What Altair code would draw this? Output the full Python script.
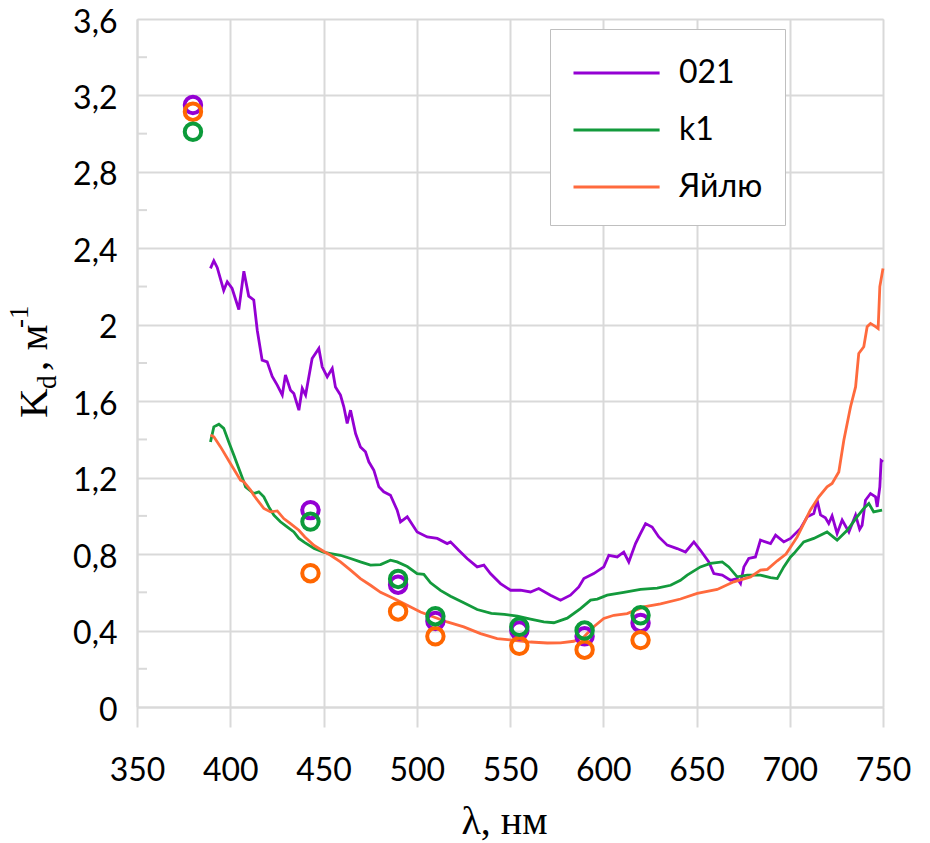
import altair as alt
import pandas as pd

# ---------------- data ----------------
SERIES = ["021", "k1", "Яйлю"]

WL_021 = [389.4, 391.2, 393.0, 396.5, 398.4, 401.0, 404.6, 407.3, 409.9, 412.6, 414.5, 417.1,
          419.8, 422.5, 425.2, 427.9, 429.6, 432.3, 434.1, 436.8, 438.6, 440.4, 443.9, 447.5,
          449.3, 452.0, 454.7, 456.4, 459.1, 460.9, 462.7, 464.5, 467.2, 469.8, 472.5, 474.3,
          477.0, 479.7, 482.3, 485.9, 489.5, 491.3, 494.9, 500.2, 505.6, 511.0, 516.3, 518.1,
          522.5, 527.0, 532.4, 536.0, 539.5, 544.9, 550.3, 555.6, 561.0, 565.4, 571.7, 577.1,
          582.4, 586.9, 589.6, 594.9, 600.3, 603.0, 607.5, 611.0, 613.7, 617.3, 620.0, 622.7,
          626.2, 629.8, 634.3, 639.6, 644.1, 648.6, 652.1, 656.6, 659.3, 663.8, 668.2, 671.8,
          673.6, 675.4, 678.0, 681.6, 684.3, 689.7, 692.4, 696.8, 700.4, 705.8, 709.4, 712.9,
          714.7, 716.5, 719.1, 720.9, 722.7, 725.4, 728.1, 731.7, 735.3, 737.5, 738.8, 740.6,
          743.3, 746.0, 746.9, 748.3, 749.0, 750.0]
KD_021 = [2.295, 2.335, 2.30, 2.18, 2.225, 2.19, 2.08, 2.28, 2.15, 2.13, 1.97, 1.815,
          1.806, 1.73, 1.684, 1.632, 1.737, 1.658, 1.64, 1.553, 1.667, 1.632, 1.824, 1.876,
          1.78, 1.728, 1.772, 1.675, 1.632, 1.571, 1.484, 1.553, 1.431, 1.361, 1.335, 1.283,
          1.239, 1.152, 1.126, 1.108, 1.03, 0.969, 0.995, 0.916, 0.89, 0.882, 0.855, 0.864,
          0.82, 0.777, 0.733, 0.742, 0.698, 0.646, 0.611, 0.611, 0.602, 0.62, 0.585, 0.559,
          0.585, 0.628, 0.672, 0.698, 0.733, 0.794, 0.785, 0.811, 0.759, 0.855, 0.908, 0.96,
          0.942, 0.89, 0.847, 0.829, 0.811, 0.864, 0.82, 0.759, 0.698, 0.69, 0.663, 0.672,
          0.646, 0.733, 0.777, 0.785, 0.873, 0.855, 0.899, 0.864, 0.882, 0.934, 0.995, 1.012,
          1.082, 1.005, 0.99, 0.96, 1.0, 0.908, 0.978, 0.916, 1.004, 0.93, 0.951, 1.082,
          1.117, 1.10, 1.047, 1.152, 1.29, 1.283]

WL_K1 = [389.4, 391.2, 393.9, 396.5, 399.2, 401.9, 404.6, 407.3, 408.2, 412.6, 415.3, 418.0,
         420.7, 423.4, 426.9, 430.5, 434.1, 436.8, 440.0, 445.0, 450.0, 453.8, 459.1, 464.5,
         469.8, 475.2, 480.6, 485.9, 489.5, 494.9, 500.2, 503.8, 507.4, 512.7, 518.1, 525.2,
         532.4, 540.0, 547.0, 554.0, 561.0, 568.1, 573.5, 580.7, 587.8, 593.2, 596.8, 602.1,
         611.0, 620.0, 628.9, 636.1, 641.4, 645.0, 652.1, 657.5, 663.8, 667.3, 671.8, 677.2,
         684.3, 689.7, 693.3, 696.8, 700.4, 702.2, 707.5, 712.9, 720.0, 725.4, 730.8, 736.1,
         739.7, 742.4, 745.0, 749.5]
KD_K1 = [1.387, 1.466, 1.48, 1.458, 1.387, 1.318, 1.248, 1.178, 1.152, 1.117, 1.126, 1.10,
         1.047, 1.004, 0.969, 0.942, 0.916, 0.882, 0.86, 0.83, 0.81, 0.803, 0.794, 0.777,
         0.759, 0.742, 0.745, 0.768, 0.759, 0.735, 0.698, 0.694, 0.65, 0.61, 0.58, 0.545,
         0.51, 0.49, 0.485, 0.475, 0.46, 0.445, 0.441, 0.465, 0.515, 0.559, 0.565, 0.585,
         0.60, 0.615, 0.622, 0.637, 0.663, 0.69, 0.733, 0.751, 0.759, 0.733, 0.681, 0.69,
         0.69, 0.677, 0.672, 0.733, 0.785, 0.803, 0.864, 0.882, 0.916, 0.873, 0.925, 0.995,
         1.039, 1.065, 1.021, 1.03]

WL_YAILU = [389.4, 391.2, 394.8, 400.1, 405.5, 407.3, 410.9, 412.6, 418.0, 421.6, 425.2, 428.7,
            432.3, 436.8, 440.0, 445.0, 450.0, 453.8, 459.1, 464.5, 469.8, 475.2, 480.6, 487.7,
            494.9, 502.0, 509.1, 516.3, 525.2, 534.2, 543.1, 552.0, 561.0, 570.0, 577.0, 584.2,
            589.6, 594.9, 600.3, 605.7, 612.8, 621.7, 630.7, 641.4, 650.4, 661.1, 670.0, 679.0,
            684.3, 688.0, 693.3, 698.0, 704.0, 707.5, 711.0, 715.6, 720.0, 722.7, 726.3, 729.0,
            732.6, 735.3, 737.0, 739.7, 741.5, 743.3, 746.0, 747.4, 748.3, 750.0]
KD_YAILU = [1.423, 1.414, 1.361, 1.274, 1.187, 1.178, 1.135, 1.108, 1.039, 1.021, 1.026, 0.986,
            0.96, 0.925, 0.89, 0.845, 0.815, 0.794, 0.759, 0.716, 0.672, 0.637, 0.60, 0.568,
            0.532, 0.497, 0.471, 0.445, 0.419, 0.384, 0.358, 0.349, 0.34, 0.335, 0.336, 0.344,
            0.366, 0.42, 0.463, 0.48, 0.489, 0.524, 0.54, 0.565, 0.594, 0.615, 0.655, 0.681,
            0.716, 0.72, 0.765, 0.80, 0.89, 0.96, 1.03, 1.10, 1.152, 1.17, 1.23, 1.396,
            1.571, 1.675, 1.85, 1.885, 1.99, 2.007, 1.99, 1.98, 2.2, 2.295]

# measured points (circles)
STATION_WL = [380, 443, 490, 510, 555, 590, 620]
DOT_021 = [3.15, 1.03, 0.64, 0.45, 0.40, 0.37, 0.44]
DOT_YAILU = [3.115, 0.70, 0.50, 0.37, 0.32, 0.30, 0.35]
DOT_K1 = [3.01, 0.97, 0.67, 0.475, 0.42, 0.40, 0.48]

Y_TICKS = [0, 0.4, 0.8, 1.2, 1.6, 2.0, 2.4, 2.8, 3.2, 3.6]
Y_MINOR = [0.2, 0.6, 1.0, 1.4, 1.8, 2.2, 2.6, 3.0, 3.4]
X_TICKS = [350, 400, 450, 500, 550, 600, 650, 700, 750]

LINE_COLORS = ["#9400D3", "#139A3C", "#FF6A3D"]
DOT_COLORS = ["#9400D3", "#0C9B3A", "#FF6600"]
GRID = "#D9D9D9"

# ---------------- tables ----------------
lines = pd.concat([
    pd.DataFrame({"wl": WL_021, "kd": KD_021, "series": "021"}),
    pd.DataFrame({"wl": WL_K1, "kd": KD_K1, "series": "k1"}),
    pd.DataFrame({"wl": WL_YAILU, "kd": KD_YAILU, "series": "Яйлю"}),
], ignore_index=True)

dots = pd.concat([
    pd.DataFrame({"wl": STATION_WL, "kd": DOT_021, "series": "021"}),
    pd.DataFrame({"wl": STATION_WL, "kd": DOT_YAILU, "series": "Яйлю"}),
    pd.DataFrame({"wl": STATION_WL, "kd": DOT_K1, "series": "k1"}),
], ignore_index=True)

minor = pd.DataFrame({"v": Y_MINOR})

x_scale = alt.Scale(domain=[350, 750], nice=False, zero=False)
y_scale = alt.Scale(domain=[0, 3.6], nice=False)

x_axis = alt.Axis(values=X_TICKS, title="λ, нм", grid=True, gridColor=GRID, gridWidth=2,
                  domainColor=GRID, domainWidth=2, ticks=True, tickSize=20, tickColor=GRID,
                  tickWidth=2, labelFont="Lato", labelFontSize=32, labelColor="black",
                  labelPadding=28, labelFlush=False, labelOverlap=False,
                  titleFont="Liberation Serif", titleFontSize=40,
                  titleFontWeight="normal", titleColor="black", titleX=367, titleY=126,
                  titleBaseline="alphabetic", titleAlign="center")
y_axis = alt.Axis(values=Y_TICKS, title=None, grid=True, gridColor=GRID, gridWidth=2,
                  domainColor=GRID, domainWidth=2, ticks=False, tickSize=0,
                  labelFont="Lato", labelFontSize=32, labelColor="black", labelPadding=20,
                  labelOffset=3, labelFlush=False, labelOverlap=False,
                  labelExpr="replace(format(datum.value, '~g'), '.', ',')")

line_layer = alt.Chart(lines).mark_line(strokeWidth=2.8).encode(
    x=alt.X("wl:Q", scale=x_scale, axis=x_axis),
    y=alt.Y("kd:Q", scale=y_scale, axis=y_axis),
    color=alt.Color("series:N", scale=alt.Scale(domain=SERIES, range=LINE_COLORS),
                    legend=alt.Legend(title=None, orient="none", legendX=413, legendY=10,
                                      padding=22, symbolType="M-1,0H3.2", symbolSize=1681,
                                      symbolStrokeWidth=3, labelFont="Lato", labelFontSize=32,
                                      labelColor="black", labelOffset=63, rowPadding=19,
                                      strokeColor="#BFBFBF", fillColor="white")),
    detail="series:N",
)

dot_layer = alt.Chart(dots).mark_point(filled=False, size=270, strokeWidth=4, opacity=1).encode(
    x=alt.X("wl:Q", scale=x_scale),
    y=alt.Y("kd:Q", scale=y_scale),
    color=alt.Color("series:N", scale=alt.Scale(domain=SERIES, range=DOT_COLORS), legend=None),
    order=alt.Order("idx:Q"),
).transform_window(idx="row_number()")

minor_layer = alt.Chart(minor).mark_rule(color=GRID, strokeWidth=2).encode(
    y=alt.Y("v:Q", scale=y_scale),
    x=alt.value(0), x2=alt.value(10),
)

ytitle_font = "Liberation Serif"
t_K = alt.Chart(pd.DataFrame({"t": ["K"]})).mark_text(
    angle=270, align="left", baseline="alphabetic", font=ytitle_font, fontSize=41, color="black"
).encode(text="t:N", x=alt.value(-90), y=alt.value(399))
t_d = alt.Chart(pd.DataFrame({"t": ["d"]})).mark_text(
    angle=270, align="left", baseline="alphabetic", font=ytitle_font, fontSize=27, color="black"
).encode(text="t:N", x=alt.value(-81), y=alt.value(370))
t_m = alt.Chart(pd.DataFrame({"t": [", м"]})).mark_text(
    angle=270, align="left", baseline="alphabetic", font=ytitle_font, fontSize=41, color="black"
).encode(text="t:N", x=alt.value(-90), y=alt.value(352))
t_sup = alt.Chart(pd.DataFrame({"t": ["-1"]})).mark_text(
    angle=270, align="left", baseline="alphabetic", font=ytitle_font, fontSize=27, color="black"
).encode(text="t:N", x=alt.value(-109), y=alt.value(309))

chart = alt.layer(minor_layer, line_layer, dot_layer, t_K, t_d, t_m, t_sup).resolve_scale(
    color="independent"
).properties(
    width=746, height=688,
    autosize=alt.AutoSizeParams(type="none"),
    padding={"left": 137, "top": 19, "right": 47, "bottom": 136},
).configure_view(stroke=None).configure(background="white")

chart.save("out.html", embed_options={"renderer": "svg", "actions": False})
